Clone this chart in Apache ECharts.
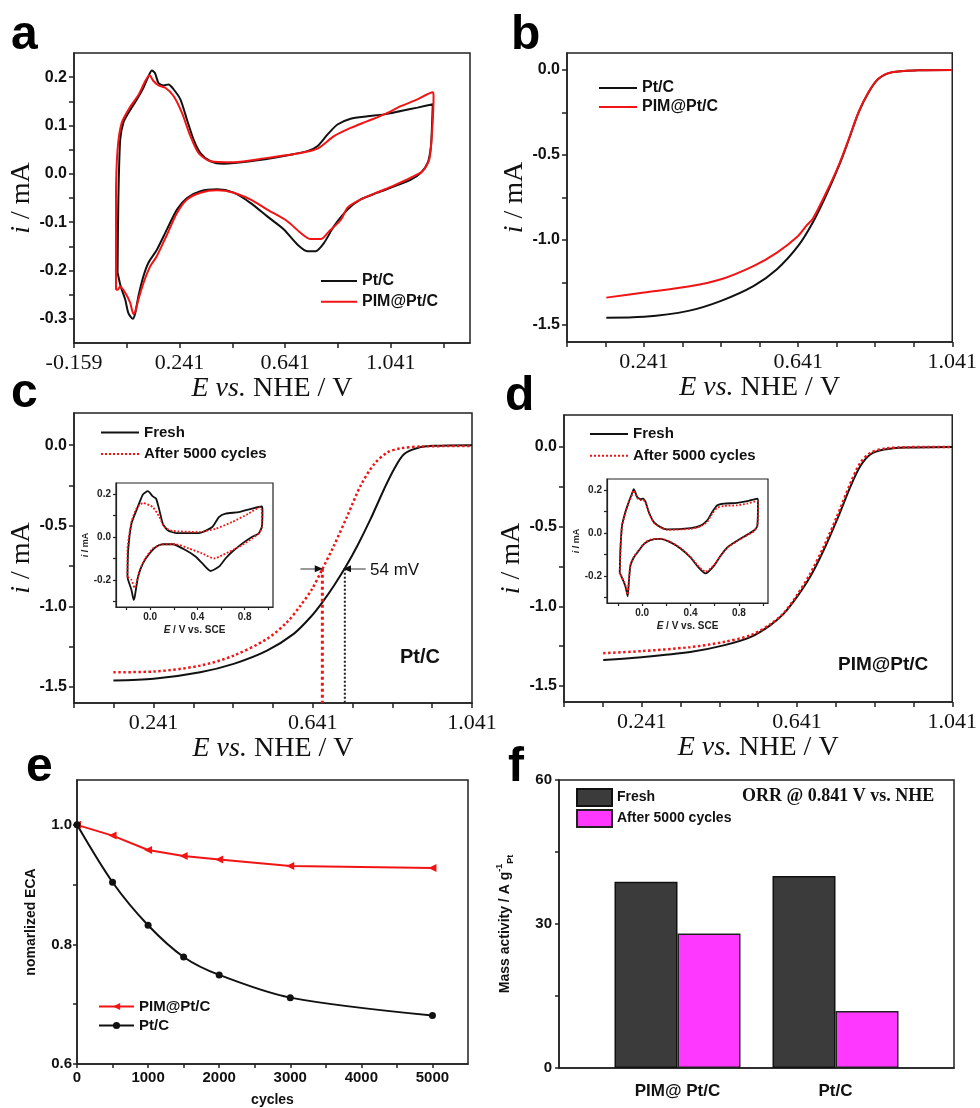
<!DOCTYPE html>
<html>
<head>
<meta charset="utf-8">
<script src="https://cdn.jsdelivr.net/npm/echarts@6/dist/echarts.min.js"></script>
<style>
html, body { margin: 0; padding: 0; background: #fff; }
#chart { width: 980px; height: 1108px; }
</style>
</head>
<body>
<div id="chart"></div>
<script>
// ---------- data ----------

// (a) CV in NHE scale, [E, i]
var cvA_PtC = [[0.006,-0.204],[0.009,-0.053],[0.016,0.071],[0.028,0.106],[0.047,0.126],[0.079,0.154],[0.104,0.178],[0.123,0.202],[0.136,0.214],[0.148,0.208],[0.161,0.188],[0.180,0.183],[0.199,0.185],[0.218,0.175],[0.244,0.154],[0.269,0.112],[0.294,0.071],[0.320,0.043],[0.358,0.026],[0.408,0.021],[0.509,0.026],[0.636,0.037],[0.725,0.047],[0.763,0.057],[0.801,0.081],[0.839,0.102],[0.889,0.114],[0.953,0.119],[1.016,0.123],[1.079,0.130],[1.142,0.137],[1.200,0.144],
  [1.197,0.099],[1.193,0.057],[1.181,0.023],[1.155,0.002],[1.117,-0.012],[1.054,-0.026],[0.991,-0.039],[0.927,-0.053],[0.877,-0.074],[0.826,-0.108],[0.788,-0.143],[0.756,-0.160],[0.725,-0.160],[0.687,-0.146],[0.636,-0.115],[0.573,-0.088],[0.509,-0.060],[0.446,-0.039],[0.383,-0.032],[0.320,-0.036],[0.269,-0.050],[0.231,-0.074],[0.193,-0.115],[0.155,-0.157],[0.123,-0.184],[0.104,-0.212],[0.085,-0.253],[0.073,-0.288],[0.064,-0.300],[0.047,-0.288],[0.035,-0.260],[0.018,-0.233],[0.006,-0.204]];
var cvA_PIM = [[0.000,-0.240],[0.000,-0.053],[0.006,0.050],[0.022,0.106],[0.054,0.139],[0.085,0.163],[0.111,0.192],[0.127,0.204],[0.142,0.192],[0.161,0.183],[0.187,0.178],[0.218,0.161],[0.250,0.126],[0.282,0.078],[0.313,0.043],[0.358,0.026],[0.446,0.024],[0.573,0.033],[0.699,0.043],[0.763,0.052],[0.826,0.078],[0.889,0.095],[0.953,0.109],[1.016,0.123],[1.079,0.140],[1.142,0.154],[1.200,0.169],
  [1.203,0.160],[1.197,0.085],[1.187,0.030],[1.162,0.006],[1.117,-0.008],[1.054,-0.024],[0.991,-0.038],[0.927,-0.053],[0.877,-0.070],[0.852,-0.095],[0.807,-0.119],[0.776,-0.135],[0.737,-0.135],[0.699,-0.122],[0.649,-0.098],[0.573,-0.074],[0.509,-0.053],[0.446,-0.039],[0.383,-0.034],[0.320,-0.039],[0.269,-0.053],[0.231,-0.081],[0.193,-0.126],[0.155,-0.170],[0.130,-0.191],[0.104,-0.226],[0.085,-0.260],[0.073,-0.285],[0.066,-0.290],[0.054,-0.267],[0.035,-0.246],[0.016,-0.233],[0.006,-0.240],[0.000,-0.240]];

// (b) LSV
var lsvB_PtC = [[0.143,-1.457],[0.241,-1.452],[0.356,-1.417],[0.441,-1.358],[0.526,-1.270],[0.586,-1.172],[0.641,-1.035],[0.679,-0.897],[0.713,-0.740],[0.747,-0.563],[0.773,-0.406],[0.798,-0.249],[0.824,-0.131],[0.849,-0.053],[0.884,-0.014],[0.952,-0.002],[1.041,0]];
var lsvB_PIM = [[0.143,-1.339],[0.241,-1.309],[0.356,-1.274],[0.441,-1.231],[0.526,-1.152],[0.586,-1.074],[0.641,-0.976],[0.662,-0.917],[0.679,-0.875],[0.713,-0.725],[0.747,-0.556],[0.773,-0.402],[0.798,-0.247],[0.824,-0.128],[0.849,-0.051],[0.884,-0.013],[0.952,-0.002],[1.041,0]];

// (c) Pt/C, fresh vs after 5000 cycles
var lsvC_fresh = [[0.140,-1.461],[0.241,-1.450],[0.358,-1.409],[0.442,-1.357],[0.526,-1.275],[0.593,-1.171],[0.635,-1.068],[0.665,-0.975],[0.694,-0.872],[0.723,-0.758],[0.753,-0.624],[0.786,-0.459],[0.820,-0.273],[0.845,-0.149],[0.870,-0.056],[0.904,-0.017],[0.946,-0.004],[1.041,0]];
var lsvC_after = [[0.140,-1.409],[0.241,-1.405],[0.358,-1.368],[0.442,-1.306],[0.526,-1.202],[0.576,-1.099],[0.610,-0.996],[0.639,-0.893],[0.665,-0.769],[0.694,-0.624],[0.728,-0.438],[0.761,-0.252],[0.795,-0.118],[0.828,-0.045],[0.862,-0.019],[0.912,-0.008],[1.041,-0.004]];
var shiftLevel = -0.767, shiftAfter = 0.665, shiftFresh = 0.7215;

// (d) PIM@Pt/C, fresh vs after 5000 cycles
var lsvD_fresh = [[0.142,-1.336],[0.241,-1.319],[0.366,-1.287],[0.452,-1.245],[0.521,-1.193],[0.572,-1.119],[0.607,-1.046],[0.641,-0.941],[0.675,-0.815],[0.710,-0.647],[0.744,-0.458],[0.779,-0.248],[0.804,-0.122],[0.830,-0.048],[0.865,-0.017],[0.925,-0.004],[1.041,0]];
var lsvD_after = [[0.142,-1.294],[0.241,-1.281],[0.366,-1.256],[0.452,-1.224],[0.521,-1.182],[0.572,-1.113],[0.607,-1.042],[0.641,-0.930],[0.675,-0.796],[0.710,-0.626],[0.744,-0.437],[0.779,-0.227],[0.804,-0.101],[0.830,-0.038],[0.865,-0.011],[0.925,-0.002],[1.041,0]];

// insets, CV vs SCE
var insC_fresh = [[-0.193,-0.185],[-0.187,-0.062],[-0.159,0.062],[-0.117,0.123],[-0.090,0.161],[-0.062,0.197],[-0.020,0.212],[0.022,0.188],[0.050,0.177],[0.078,0.123],[0.106,0.062],[0.148,0.031],[0.218,0.018],[0.414,0.018],[0.526,0.046],[0.582,0.092],[0.638,0.108],[0.750,0.115],[0.861,0.131],[0.945,0.141],
  [0.951,0.123],[0.945,0.046],[0.917,0.015],[0.861,0.0],[0.778,-0.031],[0.694,-0.069],[0.638,-0.100],[0.582,-0.138],[0.512,-0.158],[0.442,-0.123],[0.386,-0.092],[0.302,-0.062],[0.190,-0.034],[0.106,-0.034],[0.050,-0.046],[-0.006,-0.077],[-0.062,-0.123],[-0.103,-0.185],[-0.131,-0.277],[-0.140,-0.292],[-0.159,-0.246],[-0.187,-0.200],[-0.193,-0.185]];
var insC_after = [[-0.193,-0.185],[-0.193,-0.062],[-0.159,0.069],[-0.117,0.131],[-0.062,0.157],[0.022,0.138],[0.078,0.092],[0.120,0.046],[0.190,0.028],[0.414,0.023],[0.554,0.038],[0.694,0.069],[0.834,0.108],[0.931,0.138],
  [0.945,0.123],[0.945,0.046],[0.917,0.015],[0.861,-0.008],[0.778,-0.038],[0.694,-0.062],[0.610,-0.085],[0.540,-0.100],[0.442,-0.077],[0.330,-0.054],[0.218,-0.034],[0.106,-0.034],[0.022,-0.054],[-0.034,-0.092],[-0.090,-0.154],[-0.117,-0.215],[-0.131,-0.238],[-0.159,-0.200],[-0.193,-0.185]];
var insD_fresh = [[-0.185,-0.184],[-0.179,-0.075],[-0.166,0.034],[-0.138,0.097],[-0.110,0.144],[-0.083,0.183],[-0.069,0.203],[-0.041,0.167],[-0.014,0.156],[0.008,0.159],[0.028,0.144],[0.055,0.097],[0.097,0.050],[0.152,0.027],[0.207,0.016],[0.400,0.022],[0.483,0.034],[0.538,0.058],[0.579,0.097],[0.621,0.128],[0.676,0.136],[0.786,0.139],[0.869,0.147],[0.952,0.159],
  [0.957,0.144],[0.952,0.034],[0.924,0.011],[0.869,-0.008],[0.786,-0.036],[0.704,-0.067],[0.648,-0.106],[0.593,-0.153],[0.524,-0.188],[0.455,-0.153],[0.400,-0.114],[0.317,-0.072],[0.235,-0.044],[0.152,-0.028],[0.069,-0.033],[0.014,-0.052],[-0.028,-0.083],[-0.069,-0.114],[-0.097,-0.153],[-0.110,-0.231],[-0.119,-0.294],[-0.138,-0.247],[-0.166,-0.208],[-0.185,-0.184]];
var insD_after = [[-0.185,-0.190],[-0.179,-0.075],[-0.166,0.030],[-0.138,0.094],[-0.110,0.140],[-0.083,0.178],[-0.069,0.197],[-0.041,0.163],[-0.014,0.152],[0.008,0.155],[0.028,0.140],[0.055,0.094],[0.097,0.047],[0.152,0.025],[0.207,0.014],[0.400,0.019],[0.483,0.030],[0.538,0.052],[0.579,0.089],[0.621,0.117],[0.676,0.125],[0.786,0.128],[0.869,0.136],[0.952,0.148],
  [0.957,0.136],[0.952,0.030],[0.924,0.008],[0.869,-0.010],[0.786,-0.038],[0.704,-0.069],[0.648,-0.108],[0.593,-0.150],[0.524,-0.180],[0.455,-0.148],[0.400,-0.111],[0.317,-0.070],[0.235,-0.042],[0.152,-0.027],[0.069,-0.031],[0.014,-0.050],[-0.028,-0.080],[-0.069,-0.111],[-0.097,-0.150],[-0.110,-0.228],[-0.119,-0.285],[-0.138,-0.244],[-0.166,-0.205],[-0.185,-0.190]];

// (e) normalized ECA vs cycles
var cyclesE = [0, 500, 1000, 1500, 2000, 3000, 5000];
var ecaPIM = [1.0, 0.982, 0.958, 0.948, 0.942, 0.931, 0.928];
var ecaPtC = [1.0, 0.904, 0.832, 0.779, 0.749, 0.711, 0.681];

// (f) mass activity
var catsF = ['PIM@ Pt/C', 'Pt/C'];
var massFresh = [38.8, 40.0];
var massAfter = [28.0, 11.9];

// tick / label values
var ticksXa = [-0.159, 0.041, 0.241, 0.441, 0.641, 0.841, 1.041, 1.241];
var labelsXa = [-0.159, 0.241, 0.641, 1.041];
var ticksYa = [-0.3, -0.25, -0.2, -0.15, -0.1, -0.05, 0, 0.05, 0.1, 0.15, 0.2];
var labelsYa = [-0.3, -0.2, -0.1, 0, 0.1, 0.2];
var ticksXlsv = [0.041, 0.141, 0.241, 0.341, 0.441, 0.541, 0.641, 0.741, 0.841, 0.941, 1.041];
var labelsXlsv = [0.241, 0.641, 1.041];
var ticksYlsv = [-1.5, -1.25, -1.0, -0.75, -0.5, -0.25, 0];
var labelsYlsv = [-1.5, -1.0, -0.5, 0];
var ticksXe = [0, 500, 1000, 1500, 2000, 2500, 3000, 3500, 4000, 4500, 5000];
var labelsXe = [0, 1000, 2000, 3000, 4000, 5000];
var ticksYe = [0.6, 0.7, 0.8, 0.9, 1.0];
var labelsYe = [0.6, 0.8, 1.0];
var ticksYf = [0, 15, 30, 45, 60];
var labelsYf = [0, 30, 60];
var ticksXins = [-0.2, 0, 0.2, 0.4, 0.6, 0.8, 1.0];
var labelsXins = [0, 0.4, 0.8];
var ticksYins = [-0.3, -0.2, -0.1, 0, 0.1, 0.2];
var labelsYins = [-0.2, 0, 0.2];

// ---------- styles ----------
var SANS = '"Liberation Sans", Arial, sans-serif';
var SERIF = '"Liberation Serif", "Times New Roman", serif';
var RED = '#f21414', BLK = '#111';

var serifName = {
    fontFamily: SERIF, fontSize: 28, color: BLK,
    rich: { i: { fontFamily: SERIF, fontSize: 28, fontStyle: 'italic', color: BLK } }
};
var xLab = { fontFamily: SERIF, fontSize: 22, color: BLK, margin: 9 };
var yLab = { fontFamily: SANS, fontSize: 16, fontWeight: 'bold', color: BLK, margin: 7 };
var smallLab = { fontFamily: SANS, fontSize: 15, fontWeight: 'bold', color: BLK };
var insLab = { fontFamily: SANS, fontSize: 10, fontWeight: 'bold', color: '#222', margin: 5 };

function fixed(d) { return function (v) { return v.toFixed(d); }; }

function axis(gi, min, max, ticks, labels, fmt, lab, tickLen, lw) {
    return {
        type: 'value', gridIndex: gi, min: min, max: max,
        axisLine: { show: true, onZero: false, lineStyle: { color: '#222', width: lw || 1.5 } },
        axisTick: { show: true, length: tickLen || 5, customValues: ticks, lineStyle: { color: '#222', width: lw || 1.5 } },
        axisLabel: Object.assign({ customValues: labels, formatter: fmt }, lab),
        splitLine: { show: false }
    };
}
function named(ax, name, style, gap, rotate) {
    ax.name = name; ax.nameLocation = 'middle'; ax.nameGap = gap;
    ax.nameTextStyle = style;
    if (rotate) ax.nameRotate = 90;
    return ax;
}
function line(gi, name, data, color, width, type, smooth) {
    return {
        type: 'line', name: name, xAxisIndex: gi, yAxisIndex: gi, data: data,
        symbol: 'none', smooth: smooth,
        lineStyle: { color: color, width: width, type: type }, itemStyle: { color: color },
        z: 3, animation: false, silent: true
    };
}
function box(l, t, w, h) {
    return { left: l, top: t, width: w, height: h, show: true, borderColor: '#222', borderWidth: 1.5, backgroundColor: 'transparent' };
}
function legendAt(names, left, top, gap, fontSize, iw, ih, hideSymbol) {
    return {
        data: names, left: left, top: top, orient: 'vertical', padding: 0,
        itemGap: gap, itemWidth: iw || 36, itemHeight: ih || fontSize, selectedMode: false,
        itemStyle: hideSymbol ? { opacity: 0 } : {},
        formatter: function (n) { return n.split(':')[1]; },
        textStyle: { fontFamily: SANS, fontSize: fontSize, lineHeight: fontSize, fontWeight: 'bold', color: BLK }
    };
}

var xName = '{i|E} {i|vs.} NHE / V';
var yName = '{i|i} / mA';
var insXStyle = { fontFamily: SANS, fontSize: 10, fontWeight: 'bold', color: '#222', rich: { i: { fontStyle: 'italic', fontWeight: 'bold', fontSize: 10, fontFamily: SANS } } };
var insYStyle = { fontFamily: SANS, fontSize: 9, fontWeight: 'bold', color: '#222', rich: { i: { fontStyle: 'italic', fontWeight: 'bold', fontSize: 9, fontFamily: SANS } } };

var xAxes = [
    named(axis(0, -0.159, 1.341, ticksXa, labelsXa, fixed(3), xLab), xName, serifName, 31),
    named(axis(1, 0.041, 1.041, ticksXlsv, labelsXlsv, fixed(3), xLab), xName, serifName, 31),
    named(axis(2, 0.041, 1.041, ticksXlsv, labelsXlsv, fixed(3), xLab), xName, serifName, 31),
    named(axis(3, 0.041, 1.041, ticksXlsv, labelsXlsv, fixed(3), xLab), xName, serifName, 30),
    named(axis(4, 0, 5500, ticksXe, labelsXe, fixed(0), Object.assign({ margin: 6 }, smallLab), 4),
        'cycles', { fontFamily: SANS, fontSize: 14, fontWeight: 'bold', color: BLK }, 29),
    axis(5, 0.25, 2.75, [], [1, 2], function (v) { return catsF[Math.round(v) - 1]; },
        { fontFamily: SANS, fontSize: 17, fontWeight: 'bold', color: BLK, margin: 15 }),
    named(axis(6, -0.29, 1.04, ticksXins, labelsXins, fixed(1), insLab, 3, 1.2), '{i|E} / V vs. SCE', insXStyle, 18),
    named(axis(7, -0.29, 1.04, ticksXins, labelsXins, fixed(1), insLab, 3, 1.2), '{i|E} / V vs. SCE', insXStyle, 18)
];
xAxes[5].axisTick.show = false;

var yAxes = [
    named(axis(0, -0.35, 0.25, ticksYa, labelsYa, fixed(1), yLab), yName, serifName, 28, true),
    named(axis(1, -1.6, 0.1, ticksYlsv, labelsYlsv, fixed(1), yLab), yName, serifName, 38, true),
    named(axis(2, -1.6, 0.2, ticksYlsv, labelsYlsv, fixed(1), yLab), yName, serifName, 32, true),
    named(axis(3, -1.6, 0.2, ticksYlsv, labelsYlsv, fixed(1), yLab), yName, serifName, 31, true),
    named(axis(4, 0.6, 1.075, ticksYe, labelsYe, fixed(1), Object.assign({ margin: 5 }, smallLab), 4),
        'nomarlized ECA', { fontFamily: SANS, fontSize: 14, fontWeight: 'bold', color: BLK }, 39, true),
    named(axis(5, 0, 60, ticksYf, labelsYf, fixed(0), Object.assign({ margin: 7 }, smallLab), 4),
        'Mass activity / A g{sup|-1}{sub|Pt}', {
            fontFamily: SANS, fontSize: 14, fontWeight: 'bold', color: BLK, lineHeight: 20,
            rich: {
                sup: { fontFamily: SANS, fontSize: 9, fontWeight: 'bold', verticalAlign: 'top', lineHeight: 20 },
                sub: { fontFamily: SANS, fontSize: 9, fontWeight: 'bold', verticalAlign: 'bottom', lineHeight: 20 }
            }
        }, 44, true),
    named(axis(6, -0.325, 0.25, ticksYins, labelsYins, fixed(1), insLab, 3, 1.2), '{i|i} / mA', insYStyle, 24, true),
    named(axis(7, -0.325, 0.25, ticksYins, labelsYins, fixed(1), insLab, 3, 1.2), '{i|i} / mA', insYStyle, 24, true)
];

var grids = [
    box(74, 53, 396, 290),
    box(567, 53, 393, 289),
    box(74, 413, 398, 290),
    box(564, 415, 389, 287),
    box(77, 780, 391, 284),
    box(559, 780, 395, 288),
    box(116, 483, 157, 124),
    box(607, 479, 161, 124)
];
grids[6].borderWidth = 1.2; grids[7].borderWidth = 1.2;

function pairs(xs, ys) { return xs.map(function (x, i) { return [x, ys[i]]; }); }

var series = [
    line(0, 'a:Pt/C', cvA_PtC, BLK, 2, 'solid', 0.25),
    line(0, 'a:PIM@Pt/C', cvA_PIM, RED, 2, 'solid', 0.25),
    line(1, 'b:Pt/C', lsvB_PtC, BLK, 2, 'solid', 0.3),
    line(1, 'b:PIM@Pt/C', lsvB_PIM, RED, 2, 'solid', 0.3),
    line(2, 'c:Fresh', lsvC_fresh, BLK, 2, 'solid', 0.3),
    line(2, 'c:After 5000 cycles', lsvC_after, RED, 2.5, 'dotted', 0.3),
    line(2, 'c-vA', [[shiftAfter, shiftLevel], [shiftAfter, -1.6]], RED, 3, 'dotted', false),
    line(2, 'c-vF', [[shiftFresh, shiftLevel], [shiftFresh, -1.6]], '#222', 2, 'dotted', false),
    line(3, 'd:Fresh', lsvD_fresh, BLK, 2, 'solid', 0.3),
    line(3, 'd:After 5000 cycles', lsvD_after, RED, 2.5, 'dotted', 0.3),
    line(6, 'ic:Fresh', insC_fresh, BLK, 1.8, 'solid', 0.2),
    line(6, 'ic:After', insC_after, RED, 1.8, 'dotted', 0.2),
    line(7, 'id:Fresh', insD_fresh, BLK, 1.8, 'solid', 0.2),
    line(7, 'id:After', insD_after, RED, 1.8, 'dotted', 0.2)
];

// 54 mV arrows
series.push({
    type: 'line', name: 'c-arrows', xAxisIndex: 2, yAxisIndex: 2, data: [], silent: true, animation: false,
    markLine: {
        silent: true, animation: false, symbol: ['none', 'none'], label: { show: false },
        lineStyle: { color: '#999', width: 2, type: 'solid' },
        data: [
            [{ coord: [0.610, shiftLevel] }, { coord: [0.657, shiftLevel] }],
            [{ coord: [0.726, shiftLevel] }, { coord: [0.774, shiftLevel] }]
        ]
    },
    markPoint: {
        silent: true, animation: false, label: { show: false },
        itemStyle: { color: '#111' },
        data: [
            { coord: [0.656, shiftLevel], symbol: 'triangle', symbolRotate: -90, symbolSize: [7, 8] },
            { coord: [0.727, shiftLevel], symbol: 'triangle', symbolRotate: 90, symbolSize: [7, 8] }
        ]
    }
});

// (e)
series.push({
    type: 'line', name: 'e:PIM@Pt/C', xAxisIndex: 4, yAxisIndex: 4, data: pairs(cyclesE, ecaPIM),
    symbol: 'triangle', symbolRotate: 90, symbolSize: 8, showSymbol: true,
    lineStyle: { color: RED, width: 2 }, itemStyle: { color: RED }, animation: false, silent: true, z: 3
});
series.push({
    type: 'line', name: 'e:Pt/C', xAxisIndex: 4, yAxisIndex: 4, data: pairs(cyclesE, ecaPtC),
    symbol: 'circle', symbolSize: 7, showSymbol: true, smooth: 0.3,
    lineStyle: { color: BLK, width: 2 }, itemStyle: { color: BLK }, animation: false, silent: true, z: 3
});

// (f)
series.push({
    type: 'bar', name: 'f:Fresh', xAxisIndex: 5, yAxisIndex: 5,
    data: pairs([1, 2], massFresh), barWidth: 63, barGap: '0%', animation: false, silent: true,
    itemStyle: { color: '#3b3b3b', borderColor: '#111', borderWidth: 1.5 }
});
series.push({
    type: 'bar', name: 'f:After 5000 cycles', xAxisIndex: 5, yAxisIndex: 5,
    data: pairs([1, 2], massAfter), barWidth: 63, barGap: '0%', animation: false, silent: true,
    itemStyle: { color: '#ff38ff', borderColor: '#222', borderWidth: 1.5 }
});

var legends = [
    legendAt(['a:Pt/C', 'a:PIM@Pt/C'], 320, 273, 4.7, 16, 36, 16, true),
    legendAt(['b:Pt/C', 'b:PIM@Pt/C'], 598, 80, 3, 16, 38, 16, true),
    legendAt(['c:Fresh', 'c:After 5000 cycles'], 100, 425, 6.6, 15, 38, 15, true),
    legendAt(['d:Fresh', 'd:After 5000 cycles'], 589, 426.5, 6.7, 15, 38, 15, true),
    legendAt(['e:PIM@Pt/C', 'e:Pt/C'], 98, 999, 4, 15, 35, 9, false),
    legendAt(['f:Fresh', 'f:After 5000 cycles'], 576, 788, 2, 14, 35, 17, false)
];
legends[5].icon = 'rect';

function letter(t, x, y) {
    return { type: 'text', x: x, y: y, silent: true,
        style: { text: t, fontFamily: SANS, fontWeight: 'bold', fontSize: 48, fill: '#000', align: 'left', verticalAlign: 'middle' } };
}
var graphics = [
    letter('a', 11, 36), letter('b', 511, 36), letter('c', 11, 394),
    letter('d', 505, 397), letter('e', 26, 768), letter('f', 508, 768),
    { type: 'text', x: 370, y: 570, silent: true,
      style: { text: '54 mV', fontFamily: SANS, fontSize: 17, fill: BLK, verticalAlign: 'middle' } },
    { type: 'text', x: 400, y: 657, silent: true,
      style: { text: 'Pt/C', fontFamily: SANS, fontSize: 20, fontWeight: 'bold', fill: BLK, verticalAlign: 'middle' } },
    { type: 'text', x: 838, y: 665, silent: true,
      style: { text: 'PIM@Pt/C', fontFamily: SANS, fontSize: 19, fontWeight: 'bold', fill: BLK, verticalAlign: 'middle' } },
    { type: 'text', x: 742, y: 796, silent: true,
      style: { text: 'ORR @ 0.841 V vs. NHE', fontFamily: SERIF, fontSize: 18, fontWeight: 'bold', fill: BLK, verticalAlign: 'middle' } }
];

var myChart = echarts.init(document.getElementById('chart'), null, { renderer: 'canvas' });
myChart.setOption({
    backgroundColor: '#fff',
    animation: false,
    grid: grids,
    xAxis: xAxes,
    yAxis: yAxes,
    legend: legends,
    series: series,
    graphic: graphics
});
</script>
</body>
</html>
